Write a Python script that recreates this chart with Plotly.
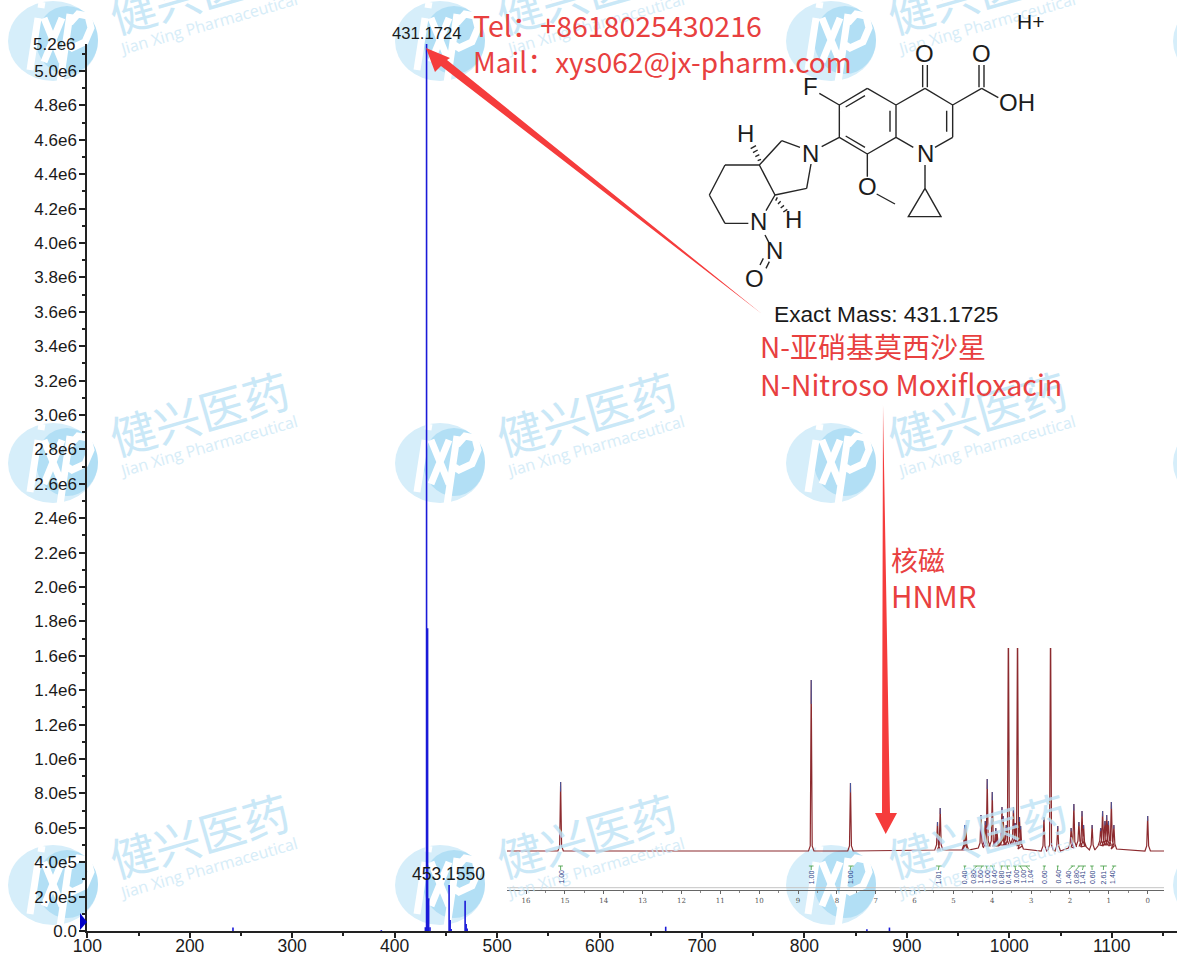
import plotly.graph_objects as go

W, H = 1177, 953
# ---------- data ----------
ms_mz = [242.2, 387.0, 431.17, 432.17, 433.2, 430.0, 434.5, 453.155, 454.16, 455.16,
         468.8, 469.8, 470.8, 664.6, 861.0, 883.0]
ms_intensity = [2e4, 5e3, 5.16e6, 1.76e6, 1.9e5, 2.2e4, 2.2e4, 2.67e5, 6.4e4, 1.2e4,
                1.76e5, 4e4, 1.5e4, 2.5e4, 1e4, 2e4]
y_tick_vals = [0, 2e5, 4e5, 6e5, 8e5, 1e6, 1.2e6, 1.4e6, 1.6e6, 1.8e6, 2e6, 2.2e6, 2.4e6,
               2.6e6, 2.8e6, 3e6, 3.2e6, 3.4e6, 3.6e6, 3.8e6, 4e6, 4.2e6, 4.4e6, 4.6e6, 4.8e6, 5e6]
y_tick_text = ["0.0", "2.0e5", "4.0e5", "6.0e5", "8.0e5", "1.0e6", "1.2e6", "1.4e6", "1.6e6", "1.8e6",
               "2.0e6", "2.2e6", "2.4e6", "2.6e6", "2.8e6", "3.0e6", "3.2e6", "3.4e6", "3.6e6", "3.8e6",
               "4.0e6", "4.2e6", "4.4e6", "4.6e6", "4.8e6", "5.0e6"]
x_tick_vals = [100, 200, 300, 400, 500, 600, 700, 800, 900, 1000, 1100]

nmr_ppm = [15.11, 8.66, 7.65, 5.41, 5.34, 4.71, 4.68, 4.29, 4.18, 4.13, 4.00, 3.91, 3.88, 3.75, 3.72,
           3.64, 3.585, 3.455, 3.41, 3.35, 3.30, 3.27, 2.67, 2.50, 2.315, 1.97, 1.90, 1.77, 1.69, 1.65,
           1.43, 1.21, 1.16, 1.10, 1.055, 1.01, 0.935, 0.87, 0.0]
nmr_height = [69, 171, 68, 29, 43, 26, 26, 36, 30, 72, 59, 23, 20, 44, 35,
              26, 240, 44, 28, 240, 34, 25, 34, 240, 25, 23, 47, 29, 40, 26,
              26, 23, 40, 30, 36, 30, 49, 26, 35]
nmr_floor = [0, 0, 0, 1, 1, 1, 1, 3, 5, 5, 5, 5, 5, 6, 6,
             6, 6, 7, 7, 7, 5, 2, 0, 1, 0, 3, 4, 5, 5, 4,
             1, 5, 6, 6, 6, 6, 5, 2, 0]

int_ppm = [15.11, 8.66, 7.66, 5.39, 4.72, 4.50, 4.32, 4.14, 3.96, 3.77, 3.59, 3.40, 3.22, 3.04,
           2.67, 2.32, 2.04, 1.85, 1.68, 1.43, 1.14, 0.92]
int_text = ["1.00", "1.00", "1.00", "1.01", "0.40", "0.80", "1.60", "1.00", "0.40", "0.80", "0.41", "3.00",
            "1.00", "1.04", "0.60", "0.40", "1.40", "0.80", "1.41", "0.60", "2.61", "1.40"]
int_from = [15.17, 8.72, 7.70, 5.45, 4.74, 4.49, 4.31, 4.19, 4.06, 3.80, 3.70, 3.46, 3.33, 3.24,
            2.70, 2.34, 1.98, 1.80, 1.72, 1.48, 1.22, 0.92]
int_to = [15.05, 8.60, 7.57, 5.29, 4.67, 4.31, 4.21, 4.10, 3.93, 3.71, 3.54, 3.37, 3.24, 3.03,
          2.62, 2.29, 1.87, 1.72, 1.59, 1.39, 1.05, 0.81]
nmr_ticks = list(range(0, 17))

# ---------- helpers ----------
def fx(x): return x / W
def fy(y): return 1 - y / H

def path(segs, close=False):
    out = []
    for seg in segs:
        out.append("M" + "L".join(f"{fx(x):.5f},{fy(y):.5f}" for x, y in seg) + ("Z" if close else ""))
    return " ".join(out)

def zm(x, y): return (680 + x / 3, y / 3)

shapes, annos = [], []

# ---------- watermarks ----------
for dx in (0, 387, 778, 1165):
    for dy in (-422, 0, 422):
        shapes.append(dict(type="circle", xref="paper", yref="paper", layer="below",
                           x0=fx(8 + dx), x1=fx(98 + dx), y0=fy(503 + dy), y1=fy(423 + dy),
                           fillcolor="#d6eefa", line_width=0))
        shapes.append(dict(type="circle", xref="paper", yref="paper", layer="below",
                           x0=fx(36 + dx), x1=fx(98 + dx), y0=fy(496 + dy), y1=fy(428 + dy),
                           fillcolor="#b2dff5", line_width=0))
        glyphs = [[(30, 492), (38, 440)], [(41, 430), (42, 424)],
                  [(44, 484), (62, 440)], [(44, 440), (62, 484)],
                  [(60, 505), (70, 436)],
                  [(70, 445), (78, 436), (88, 438), (91, 450), (85, 464), (72, 470), (66, 466)]]
        shifted = [[(x + dx, y + dy) for x, y in g] for g in glyphs]
        shapes.append(dict(type="path", xref="paper", yref="paper", layer="below",
                           path=path(shifted), line=dict(color="#ffffff", width=7)))
        for txt, cx, cy, size, col, fam in (
                ("健兴医药", 199, 412, 46, "#bde3f6", "Noto Sans CJK SC"),
                ("Jian Xing Pharmaceutical", 208, 446, 16, "#cde9f7", "Open Sans")):
            if -40 < cy + dy < H + 20 and cx + dx < W + 150:
                annos.append(dict(text=txt, xref="paper", yref="paper", x=fx(cx + dx), y=fy(cy + dy),
                                  xanchor="center", yanchor="middle", textangle=-16, showarrow=False,
                                  opacity=0.8, font=dict(size=size, color=col, family=fam)))

# ---------- molecule ----------
bonds = [
    [(735,265),(648,315)], [(648,315),(562,265)], [(562,265),(478,315)], [(555,287),(497,321)],
    [(478,315),(478,412)], [(478,412),(562,462)], [(497,408),(555,442)], [(562,462),(648,412)],
    [(648,412),(648,315)], [(630,395),(630,332)], [(648,412),(700,442)], [(765,442),(818,412)],
    [(818,412),(818,315)], [(800,395),(800,332)], [(818,315),(735,265)],
    [(728,262),(728,195)], [(742,262),(742,195)], [(818,315),(905,265)],
    [(897,262),(897,195)], [(912,262),(912,195)], [(905,265),(955,293)],
    [(478,315),(418,280)], [(478,412),(425,440)], [(360,442),(305,422)], [(305,422),(238,495)],
    [(393,492),(380,565)], [(380,565),(285,585)], [(238,495),(285,585)], [(238,495),(135,495)],
    [(135,495),(88,585)], [(88,585),(135,670)], [(135,670),(205,670)], [(258,632),(285,585)],
    [(255,705),(268,730)], [(240,795),(250,775)], [(258,805),(268,785)],
    [(562,462),(562,530)], [(590,582),(645,612)], [(735,495),(735,565)],
    [(735,565),(685,650),(783,650),(735,565)],
    [(233,482),(243,478)], [(226,470),(238,464)], [(219,458),(233,450)], [(212,446),(228,437)],
    [(292,592),(287,602)], [(302,604),(294,612)], [(312,616),(302,624)], [(322,628),(310,636)],
]
shapes.append(dict(type="path", xref="paper", yref="paper",
                   path=path([[zm(*p) for p in b] for b in bonds]),
                   line=dict(color="#262626", width=1.4)))
for txt, zx, zy in [("O", 732, 165), ("O", 904, 165), ("OH", 1010, 312), ("F", 390, 262), ("N", 735, 462),
                    ("N", 390, 462), ("H", 195, 405), ("H", 340, 662), ("N", 235, 668), ("N", 282, 755),
                    ("O", 225, 838), ("O", 562, 562)]:
    x, y = zm(zx, zy)
    annos.append(dict(text=txt, xref="paper", yref="paper", x=fx(x), y=fy(y - 1), xanchor="center", yanchor="middle",
                      showarrow=False, font=dict(size=24, color="#1c1c1c", family="Liberation Sans")))

# ---------- arrows ----------
RED = "#f53c3c"
shapes.append(dict(type="path", xref="paper", yref="paper", fillcolor=RED, line_width=0,
                   path=path([[(426, 48), (435, 72), (441, 66), (762, 314), (447, 60), (450, 58)]], close=True)))
shapes.append(dict(type="path", xref="paper", yref="paper", fillcolor=RED, line_width=0,
                   path=path([[(883, 405), (890, 813), (897, 813), (885.7, 834), (875, 813), (882, 813)]], close=True)))
shapes.append(dict(type="path", xref="paper", yref="paper", fillcolor="#0000c8", line_width=0,
                   path=path([[(80, 913), (87, 922), (80, 930)]], close=True)))

# ---------- text ----------
def label(txt, x, y, size, color, fam, anchor="left"):
    annos.append(dict(text=txt, xref="paper", yref="paper", x=fx(x), y=fy(y), xanchor=anchor, yanchor="middle",
                      showarrow=False, font=dict(size=size, color=color, family=fam)))

TXT = "#e8403f"
CJK = "Noto Sans CJK SC"
label("Tel：+8618025430216", 471, 25, 28.5, TXT, CJK)
label("Mail：xys062@jx-pharm.com", 471, 61, 28, TXT, CJK)
label("Exact Mass: 431.1725", 772, 314, 22.7, "#1a1a1a", "Liberation Sans")
label("N-亚硝基莫西沙星", 758, 346, 28, TXT, CJK)
label("N-Nitroso Moxifloxacin", 758, 384, 28.7, TXT, CJK)
label("核磁", 889, 559, 27, TXT, CJK)
label("HNMR", 889, 595, 29.5, TXT, CJK)
label("H+", 1015, 21, 21, "#1a1a1a", "Liberation Sans")
label("5.2e6", 78, 44, 17, "#1a1a1a", "Liberation Sans", "right")

annos.append(dict(text="431.1724", x=431.17, y=5.157e6, xref="x", yref="y", yanchor="bottom", xanchor="center",
                  showarrow=False, yshift=-1, font=dict(size=16.7, color="#1a1a1a", family="Liberation Sans")))
annos.append(dict(text="453.1550", x=453.155, y=2.67e5, xref="x", yref="y", yanchor="bottom", xanchor="center",
                  showarrow=False, xshift=-1, yshift=-1, font=dict(size=17.5, color="#1a1a1a", family="Liberation Sans")))

for p, t in zip(int_ppm, int_text):
    annos.append(dict(text=t, x=p, y=-26, xref="x2", yref="y2", textangle=-90, showarrow=False,
                      xanchor="center", yanchor="middle", font=dict(size=7, color="#2f3f86", family="Liberation Sans")))

# ---------- traces ----------
fig = go.Figure()
ms_x, ms_y = [], []
for m, v in zip(ms_mz, ms_intensity):
    ms_x += [m, m, None]
    ms_y += [0, v, None]
fig.add_trace(go.Scatter(x=ms_x, y=ms_y, mode="lines", line=dict(color="#1a1ad8", width=1.6),
                         xaxis="x", yaxis="y", hoverinfo="skip", showlegend=False))

env_x, env_y, tip_x, tip_y = [16.49], [0], [], []
for p, h, f in sorted(zip(nmr_ppm, nmr_height, nmr_floor), reverse=True):
    env_x += [p + 0.07, p + 0.025, p, p - 0.025, p - 0.07]
    env_y += [f, f + 5, h, f + 5, f]
    tip_x += [p, p, None]
    tip_y += [h * 0.86, h, None]
env_x.append(-0.42)
env_y.append(0)
fig.add_trace(go.Scatter(x=env_x, y=env_y, mode="lines", line=dict(color="#8c2a2e", width=1.2),
                         xaxis="x2", yaxis="y2", hoverinfo="skip", showlegend=False))
fig.add_trace(go.Scatter(x=tip_x, y=tip_y, mode="lines", line=dict(color="#46589f", width=1),
                         xaxis="x2", yaxis="y2", hoverinfo="skip", showlegend=False))
fig.add_trace(go.Scatter(x=[16.49, -0.42], y=[-36.7, -36.7], mode="lines", line=dict(color="#c4c4c4", width=1),
                         xaxis="x2", yaxis="y2", hoverinfo="skip", showlegend=False))
gx, gy = [], []
for a, b, c in zip(int_from, int_to, int_ppm):
    gx += [a, b, None, (a + b) / 2, c, None]
    gy += [-15, -15, None, -15, -19, None]
fig.add_trace(go.Scatter(x=gx, y=gy, mode="lines", line=dict(color="#3c9a3c", width=0.8),
                         xaxis="x2", yaxis="y2", hoverinfo="skip", showlegend=False))

AX = "#222222"
fig.update_layout(
    width=W, height=H, margin=dict(l=0, r=0, t=0, b=0, autoexpand=False), autosize=False,
    paper_bgcolor="#ffffff", plot_bgcolor="rgba(0,0,0,0)", showlegend=False,
    shapes=shapes, annotations=annos,
    xaxis=dict(domain=[fx(87.3), 1], range=[100, 1163.7], anchor="y", showgrid=False, zeroline=False,
               showline=True, linecolor=AX, linewidth=2, ticks="outside", ticklen=5, tickwidth=1.5, tickcolor=AX,
               tickvals=x_tick_vals, ticktext=[str(v) for v in x_tick_vals], ticklabelstandoff=-7,
               minor=dict(tick0=100, dtick=50, ticks="outside", ticklen=3, tickwidth=1.5, tickcolor=AX, showgrid=False),
               tickfont=dict(size=17.5, color="#1a1a1a", family="Liberation Sans")),
    yaxis=dict(domain=[fy(931), fy(44)], range=[0, 5.157e6], anchor="x", showgrid=False, zeroline=False,
               showline=True, linecolor=AX, linewidth=2, ticks="outside", ticklen=6, tickwidth=1.5, tickcolor=AX,
               tickvals=y_tick_vals, ticktext=y_tick_text, ticklabelstandoff=-1,
               minor=dict(tick0=0, dtick=1e5, ticks="outside", ticklen=3, tickwidth=1.5, tickcolor=AX, showgrid=False),
               tickfont=dict(size=17, color="#1a1a1a", family="Liberation Sans")),
    xaxis2=dict(domain=[fx(507), fx(1164)], range=[16.49, -0.42], anchor="y2", showgrid=False, zeroline=False,
                showline=True, linecolor="#666666", linewidth=1, ticks="outside", ticklen=3, tickwidth=1, tickcolor="#666666",
                tickvals=nmr_ticks, ticktext=[str(v) for v in nmr_ticks],
                minor=dict(tick0=0, dtick=0.5, ticks="outside", ticklen=2, tickwidth=1, tickcolor="#888888", showgrid=False),
                tickfont=dict(size=7, color="#555555", family="DejaVu Serif")),
    yaxis2=dict(domain=[fy(890.3), fy(648)], range=[-39.3, 203], anchor="x2", visible=False),
)

fig.write_html("out.html", post_script="document.body.style.margin='0';", config={"displayModeBar": False})
